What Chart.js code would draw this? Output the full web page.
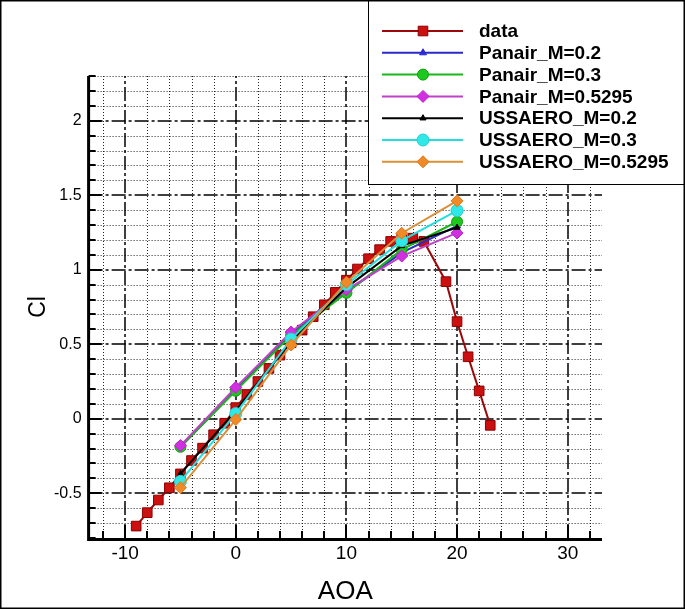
<!DOCTYPE html>
<html>
<head>
<meta charset="utf-8">
<script src="https://cdn.jsdelivr.net/npm/chart.js@4/dist/chart.umd.min.js"></script>
<style>
html,body{margin:0;padding:0;background:#fff;}
canvas{display:block;}
</style>
</head>
<body>
<canvas id="c" width="685" height="609"></canvas>
<script>
// ---- data ----
const dataAoa = [-9,-8,-7,-6,-5,-4,-3,-2,-1,0,1,2,3,4,5,6,7,8,9,10,11,12,13,14,15,16,17,19,20,21,22,23];
const dataCl  = [-0.72,-0.63,-0.545,-0.463,-0.37,-0.28,-0.197,-0.107,-0.03,0.075,0.163,0.25,0.338,0.427,0.51,0.595,0.685,0.765,0.848,0.93,1.005,1.074,1.135,1.19,1.208,1.212,1.19,0.92,0.652,0.416,0.187,-0.044];

const calcAoa = [-5,0,5,10,15,20];
const panairM02    = [-0.19, 0.195, 0.57, 0.85, 1.115, 1.295];
const panairM03    = [-0.188, 0.188, 0.56, 0.845, 1.135, 1.322];
const panairM05295 = [-0.18, 0.21, 0.582, 0.865, 1.092, 1.247];
const ussaeroM02    = [-0.37, 0.055, 0.52, 0.88, 1.16, 1.283];
const ussaeroM03    = [-0.42, 0.035, 0.535, 0.9, 1.195, 1.397];
const ussaeroM05295 = [-0.462, -0.005, 0.495, 0.915, 1.245, 1.462];

const seriesNames = ['data','Panair_M=0.2','Panair_M=0.3','Panair_M=0.5295','USSAERO_M=0.2','USSAERO_M=0.3','USSAERO_M=0.5295'];

const xTickLabels = [-10,0,10,20,30];
const yTickLabels = [-0.5,0,0.5,1,1.5,2];
const xMinorStep = 2;
const yMinorStep = 0.1;

function pts(xs, ys){ return xs.map((x,i)=>({x:x, y:ys[i]})); }

const styles = [
  {line:'#9a0a0a', fill:'#cc1010', stroke:'#8a0000', pt:'rect', r:6.8},
  {line:'#2a2ac8', fill:'#2a2ad8', stroke:'#2a2ad8', pt:'triangle', r:4},
  {line:'#18b818', fill:'#1ec81e', stroke:'#10a010', pt:'circle', r:5.5},
  {line:'#c040c8', fill:'#d030e0', stroke:'#c020d0', pt:'rectRot', r:6},
  {line:'#000000', fill:'#000000', stroke:'#000000', pt:'triangle', r:3.5},
  {line:'#22dede', fill:'#30e8e8', stroke:'#20d0d0', pt:'circle', r:6},
  {line:'#d8903a', fill:'#f08a28', stroke:'#e07818', pt:'rectRot', r:6}
];
const seriesData = [
  pts(dataAoa, dataCl),
  pts(calcAoa, panairM02),
  pts(calcAoa, panairM03),
  pts(calcAoa, panairM05295),
  pts(calcAoa, ussaeroM02),
  pts(calcAoa, ussaeroM03),
  pts(calcAoa, ussaeroM05295)
];

const datasets = seriesData.map((d,i)=>({
  label: seriesNames[i],
  data: d,
  borderColor: styles[i].line,
  backgroundColor: styles[i].fill,
  pointBorderColor: styles[i].stroke,
  pointBackgroundColor: styles[i].fill,
  pointStyle: styles[i].pt,
  pointRadius: styles[i].r,
  pointBorderWidth: 1,
  borderWidth: 2,
  tension: 0,
  fill: false,
  order: seriesData.length - i
}));

const FONT = '"Liberation Sans", Arial, Helvetica, sans-serif';

function drawMarker(ctx, style, x, y, r, fill, stroke){
  ctx.save();
  ctx.fillStyle = fill; ctx.strokeStyle = stroke; ctx.lineWidth = 1;
  ctx.beginPath();
  if (style === 'rect'){
    const s = Math.SQRT1_2 * r;
    ctx.rect(x - s, y - s, 2*s, 2*s);
  } else if (style === 'rectRot'){
    ctx.moveTo(x, y - r); ctx.lineTo(x + r, y); ctx.lineTo(x, y + r); ctx.lineTo(x - r, y); ctx.closePath();
  } else if (style === 'triangle'){
    ctx.moveTo(x, y - r); ctx.lineTo(x + r*0.866, y + r*0.5); ctx.lineTo(x - r*0.866, y + r*0.5); ctx.closePath();
  } else {
    ctx.arc(x, y, r, 0, Math.PI*2);
  }
  ctx.fill(); ctx.stroke();
  ctx.restore();
}

const framePlugin = {
  id: 'frame',
  beforeDraw(chart){
    const ctx = chart.ctx;
    ctx.save(); ctx.fillStyle = '#fff'; ctx.fillRect(0,0,chart.width,chart.height); ctx.restore();
  },
  beforeDatasetsDraw(chart){
    const ctx = chart.ctx, xs = chart.scales.x, ys = chart.scales.y;
    const {left,right,top,bottom} = chart.chartArea;
    ctx.save();
    // minor dotted lines
    ctx.strokeStyle = '#222'; ctx.lineWidth = 1; ctx.setLineDash([1,2]);
    const x0 = Math.ceil(xs.min / xMinorStep) * xMinorStep;
    for (let v = x0; v <= xs.max + 1e-9; v += xMinorStep){
      if (xTickLabels.some(t => Math.abs(t - v) < 1e-6)) continue;
      const p = Math.round(xs.getPixelForValue(v)) + 0.5;
      ctx.beginPath(); ctx.moveTo(p, top); ctx.lineTo(p, bottom); ctx.stroke();
    }
    for (let k = Math.ceil(ys.min / yMinorStep - 1e-6); k * yMinorStep <= ys.max + 1e-9; k++){
      const v = k * yMinorStep;
      if (yTickLabels.some(t => Math.abs(t - v) < 1e-6)) continue;
      const p = Math.round(ys.getPixelForValue(v)) + 0.5;
      ctx.beginPath(); ctx.moveTo(left, p); ctx.lineTo(right, p); ctx.stroke();
    }
    // major dash-dot lines
    ctx.strokeStyle = '#000'; ctx.lineWidth = 1.5; ctx.setLineDash([14,3,3,3]);
    xTickLabels.forEach(v => {
      const p = Math.round(xs.getPixelForValue(v));
      ctx.beginPath(); ctx.moveTo(p, bottom); ctx.lineTo(p, top); ctx.stroke();
    });
    yTickLabels.forEach(v => {
      const p = Math.round(ys.getPixelForValue(v));
      ctx.beginPath(); ctx.moveTo(left, p); ctx.lineTo(right, p); ctx.stroke();
    });
    ctx.restore();
  },
  afterDatasetsDraw(chart){
    const ctx = chart.ctx, xs = chart.scales.x, ys = chart.scales.y;
    const {left,right,top,bottom} = chart.chartArea;
    ctx.save();
    ctx.strokeStyle = '#000'; ctx.setLineDash([]);
    // tick marks (inward)
    ctx.lineWidth = 2;
    for (let k = Math.ceil(ys.min / yMinorStep - 1e-6); k * yMinorStep <= ys.max + 1e-9; k++){
      const v = k * yMinorStep;
      const major = yTickLabels.some(t => Math.abs(t - v) < 1e-6);
      const p = Math.round(ys.getPixelForValue(v));
      ctx.beginPath(); ctx.moveTo(left, p); ctx.lineTo(left + (major ? 13 : 7), p); ctx.stroke();
    }
    const x0 = Math.ceil(xs.min / xMinorStep) * xMinorStep;
    for (let v = x0; v <= xs.max + 1e-9; v += xMinorStep){
      const major = xTickLabels.some(t => Math.abs(t - v) < 1e-6);
      const p = Math.round(xs.getPixelForValue(v));
      ctx.beginPath(); ctx.moveTo(p, bottom); ctx.lineTo(p, bottom - (major ? 13 : 7)); ctx.stroke();
    }
    // axes
    ctx.lineWidth = 3;
    ctx.beginPath(); ctx.moveTo(left, top); ctx.lineTo(left, bottom + 1.5); ctx.lineTo(right, bottom + 1.5); ctx.stroke();
    ctx.restore();
  },
  afterDraw(chart){
    const ctx = chart.ctx;
    ctx.save();
    // legend box
    const bx = 368.5, by = 0.5, bw = 316, bh = 184;
    ctx.fillStyle = '#fff'; ctx.fillRect(bx, by, bw, bh);
    ctx.strokeStyle = '#000'; ctx.lineWidth = 1; ctx.strokeRect(bx, by, bw, bh);
    ctx.font = 'bold 19px ' + FONT; ctx.textBaseline = 'middle'; ctx.textAlign = 'left';
    chart.data.datasets.forEach((ds, i) => {
      const y = 31 + i * 21.8;
      const st = styles[i];
      ctx.strokeStyle = st.line; ctx.lineWidth = 2;
      ctx.beginPath(); ctx.moveTo(382, y); ctx.lineTo(463, y); ctx.stroke();
      drawMarker(ctx, st.pt, 423, y, st.r, st.fill, st.stroke);
      ctx.fillStyle = '#000';
      ctx.fillText(ds.label, 479, y + 1);
    });
    // outer frame
    ctx.strokeStyle = '#000'; ctx.lineWidth = 1.5;
    ctx.strokeRect(0.75, 0.75, chart.width - 1.5, chart.height - 1.5);
    ctx.restore();
  }
};

new Chart(document.getElementById('c'), {
  type: 'line',
  data: { datasets: datasets },
  options: {
    responsive: false,
    animation: false,
    devicePixelRatio: 1,
    layout: { padding: { top: 76, right: 83, left: 0, bottom: 0 } },
    plugins: { legend: { display: false }, tooltip: { enabled: false } },
    scales: {
      x: {
        type: 'linear', min: -13.3, max: 33.1,
        grid: { display: false, drawTicks: false },
        border: { display: false },
        afterBuildTicks: s => { s.ticks = xTickLabels.map(v => ({ value: v })); },
        afterFit: s => { s.height = 71; },
        ticks: { color: '#000', font: { family: FONT, size: 19 }, padding: 4, maxRotation: 0, autoSkip: false, callback: v => String(v) },
        title: { display: true, text: 'AOA', color: '#000', font: { family: FONT, size: 26 }, padding: { top: 0, bottom: 2 } }
      },
      y: {
        type: 'linear', min: -0.8, max: 2.3,
        grid: { display: false, drawTicks: false },
        border: { display: false },
        afterBuildTicks: s => { s.ticks = yTickLabels.map(v => ({ value: v })); },
        afterFit: s => { s.width = 88.6; },
        ticks: { color: '#000', font: { family: FONT, size: 16 }, padding: 7, autoSkip: false, callback: v => String(v) },
        title: { display: true, text: 'Cl', color: '#000', font: { family: FONT, size: 23 }, padding: { top: 25, bottom: 0 } }
      }
    }
  },
  plugins: [framePlugin]
});
</script>
</body>
</html>
